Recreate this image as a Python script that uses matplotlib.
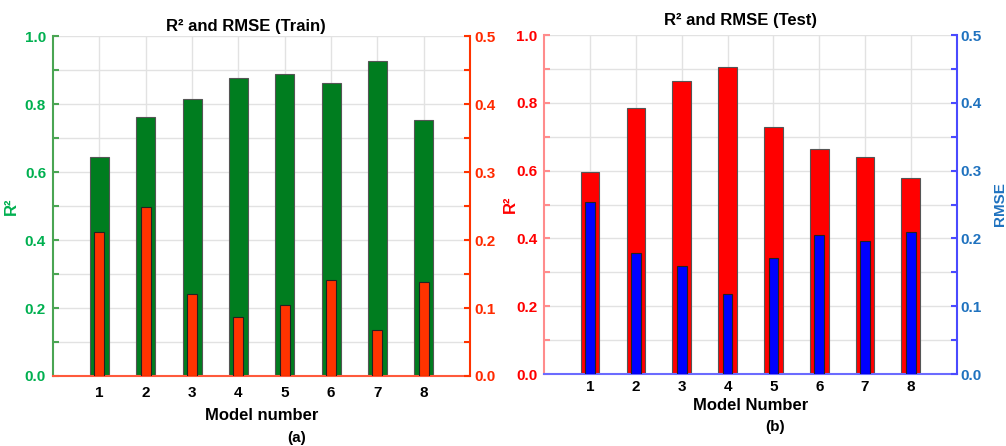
import numpy as np
import matplotlib
matplotlib.use("Agg")
import matplotlib.pyplot as plt
from matplotlib.ticker import MultipleLocator

plt.rcParams['font.family'] = ['Liberation Sans', 'DejaVu Sans']
plt.rcParams['font.weight'] = 'bold'

## Data
models = [1, 2, 3, 4, 5, 6, 7, 8]
r2_train = [0.644, 0.762, 0.815, 0.878, 0.889, 0.861, 0.926, 0.753]
rmse_train = [0.212, 0.248, 0.121, 0.087, 0.105, 0.141, 0.067, 0.138]
r2_test = [0.596, 0.786, 0.865, 0.907, 0.729, 0.665, 0.640, 0.579]
rmse_test = [0.254, 0.178, 0.159, 0.118, 0.171, 0.205, 0.196, 0.209]


def panel(rect, r2, rmse, c_r2, c_rmse, c_left, c_left_spine, c_right, c_right_spine,
          c_bottom, title, title_x, title_pad, xlabel, xlabel_pad, xtick_pad,
          ylabel_pad, show_rmse_label):
    ax = fig.add_axes(rect)
    ax.set_axisbelow(True)
    ax.bar(models, r2, width=0.41, color=c_r2, edgecolor='#555555', linewidth=0.8, zorder=2)
    ax.set_xlim(0, 9)
    ax.set_ylim(0, 1.0)
    ax.yaxis.set_major_locator(MultipleLocator(0.2))
    ax.yaxis.set_minor_locator(MultipleLocator(0.1))
    ax.set_yticks(np.arange(0, 1.01, 0.2))
    ax.set_yticklabels([f'{v:.1f}' for v in np.arange(0, 1.01, 0.2)])
    ax.set_xticks(models)
    ax.grid(True, which='both', color='#e2e2e2', linewidth=1.0)
    ax.tick_params(axis='y', which='both', direction='in', length=4, width=1.5,
                   color=c_left_spine, labelcolor=c_left, labelsize=11, pad=5)
    ax.tick_params(axis='x', length=0, labelsize=11, labelcolor='black', pad=xtick_pad)
    ax.spines['top'].set_visible(False)
    ax.spines['right'].set_visible(False)
    ax.spines['left'].set_color(c_left_spine)
    ax.spines['left'].set_linewidth(1.5)
    ax.spines['bottom'].set_color(c_bottom)
    ax.spines['bottom'].set_linewidth(1.5)
    ax.set_ylabel('R²', color=c_left, fontsize=12, fontweight='bold', labelpad=ylabel_pad)
    ax.set_xlabel(xlabel, fontsize=12, fontweight='bold', labelpad=xlabel_pad)
    ax.set_title(title, fontsize=12, fontweight='bold', pad=title_pad, x=title_x)

    ax2 = ax.twinx()
    ax2.bar(models, rmse, width=0.21, color=c_rmse, edgecolor='#222222', linewidth=0.8, zorder=3)
    ax2.set_ylim(0, 0.5)
    ax2.yaxis.set_major_locator(MultipleLocator(0.1))
    ax2.yaxis.set_minor_locator(MultipleLocator(0.05))
    ax2.set_yticks(np.arange(0, 0.51, 0.1))
    ax2.set_yticklabels([f'{v:.1f}' for v in np.arange(0, 0.51, 0.1)])
    ax2.tick_params(axis='y', which='both', direction='in', length=4, width=1.5,
                    color=c_right_spine, labelcolor=c_right, labelsize=11, pad=3)
    for s in ['top', 'left', 'bottom']:
        ax2.spines[s].set_visible(False)
    ax2.spines['right'].set_color(c_right_spine)
    ax2.spines['right'].set_linewidth(1.5)
    if show_rmse_label:
        ax2.set_ylabel('RMSE', color=c_right, fontsize=11, fontweight='bold', labelpad=8)
    return ax, ax2


fig = plt.figure(figsize=(10.06, 4.46), dpi=100)

# (a) train
panel([0.0527, 0.157, 0.4145, 0.762], r2_train, rmse_train,
      '#007d1f', '#ff3300', '#00b050', '#4aa553', '#ff2a00', '#ff3300',
      '#ff5a3c', 'R² and RMSE (Train)', 0.463, 4, 'Model number', 6, 7, 4, False)

# (b) test
panel([0.541, 0.1614, 0.410, 0.760], r2_test, rmse_test,
      '#ff0000', '#0000ff', '#ff0000', '#ff8c8c', '#1f72bf', '#4a4aff',
      '#6b6bff', 'R² and RMSE (Test)', 0.475, 7, 'Model Number', 3, 4, -1, True)

fig.text(0.295, 1 - 438 / 446, '(a)', ha='center', va='center', fontsize=11, fontweight='bold')
fig.text(0.770, 1 - 427 / 446, '(b)', ha='center', va='center', fontsize=11, fontweight='bold')

fig.savefig('out.png', dpi=100)
